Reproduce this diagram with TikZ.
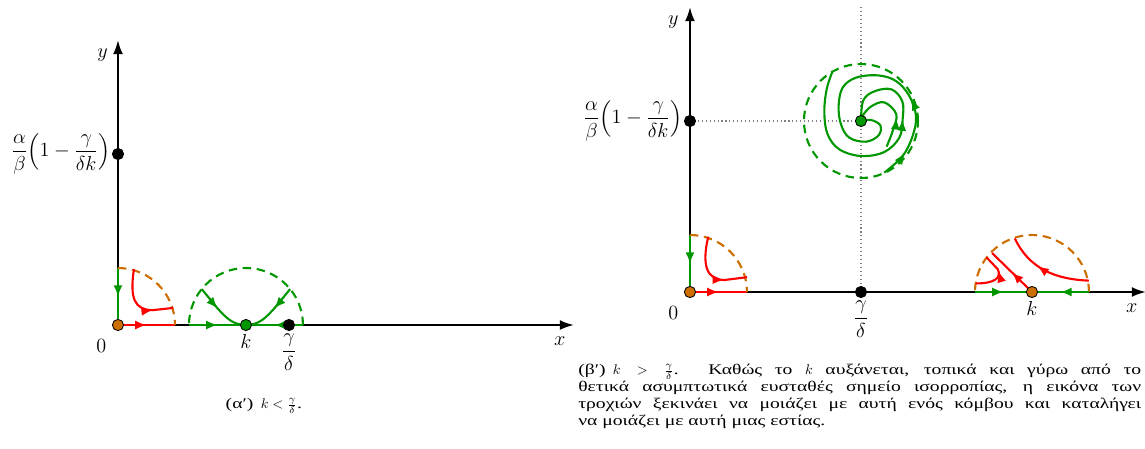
\documentclass[tikz,border=0pt]{standalone}
\usepackage{amsmath}
\usepackage{fontspec}
\newfontfamily\greekfont[Scale=1.05, FakeStretch=1.33]{Liberation Serif}
\usepackage{tikz}
\usetikzlibrary{positioning, arrows.meta, decorations.markings}

\definecolor{fgreen}{RGB}{0,150,0}
\definecolor{forange}{RGB}{204,110,0}

\begin{document}
\begin{tikzpicture}[
    x=1.425cm, y=1.425cm,
    >={Latex[length=8pt, width=6.5pt]},
    axis/.style={-{Latex[length=10pt, width=7pt]}, line width=1.5pt, black},
    lbl/.style={font=\Large, inner sep=2pt},
    pt/.style={
        circle,
        draw=black,
        line width=0.6pt,
        inner sep=0pt,
        minimum size=8pt
    },
    stablept/.style={pt, fill=fgreen},
    unstablept/.style={pt, fill=forange},
    markpt/.style={pt, fill=black},
    flow/.style={
        line width=1.5pt,
        postaction={decorate},
        decoration={markings, mark=at position #1 with {\arrow{>}}}
    },
    flow/.default=0.5,
    flowtwo/.style 2 args={
        line width=1.5pt,
        postaction={decorate},
        decoration={markings,
            mark=at position #1 with {\arrow{>}},
            mark=at position #2 with {\arrow{>}}}
    },
    bound/.style={line width=1.5pt, dash pattern=on 6pt off 4pt},
    guide/.style={gray, dotted, line width=0.8pt},
    caption/.style={font=\greekfont, inner sep=0pt}
]

\useasboundingbox (-2.070,-2.158) rectangle (18.018,5.702);

% (a) k < gamma/delta
\coordinate (O1) at (0,0);
\coordinate (x1) at (8,0);
\coordinate (y1) at (0,5);
\draw[axis] (O1) -- (x1);
\draw[axis] (O1) -- (y1);

\draw[flow, fgreen] (0,1) -- (O1);
\draw[flow, red] (O1) -- (1,0);
\draw[bound, forange] (0,1) arc[start angle=90, end angle=0, radius=1];
\draw[flow=0.72, red] (0.28,0.98) .. controls (0.2,0.45) and (0.3,0.27) .. (0.6,0.26) -- (0.97,0.3);

\draw[bound, fgreen] (3.245,0) arc[start angle=0, end angle=180, radius=1];
\draw[flow, fgreen] (1.245,0) -- (2.245,0);
\draw[flow, fgreen] (3.245,0) -- (2.245,0);
\draw[flow=0.42, fgreen] (1.47,0.63) -- (1.74,0.3) to[out=-48, in=180] (2.245,0);
\draw[flow=0.42, fgreen] (3.02,0.63) -- (2.75,0.3) to[out=-132, in=0] (2.245,0);

\node[unstablept] (o1) at (O1) {};
\node[markpt] (ys1) at (0,3) {};
\node[stablept] (k1) at (2.245,0) {};
\node[markpt] (gd1) at (3,0) {};

\node[lbl, below left=4pt and 5pt of y1] (ylab1) {$y$};
\node[lbl, below left=6pt and 4pt of x1] (xlab1) {$x$};
\node[lbl, below left=5pt and 3pt of o1] (zero1) {$0$};
\node[lbl, below=0pt of k1] (klab1) {$k$};
\node[lbl, below=0pt of gd1] (gdlab1) {$\dfrac{\gamma}{\delta}$};
\node[lbl, left=0pt of ys1, inner sep=1pt] (yslab1) {$\dfrac{\alpha}{\beta}\Bigl(1-\dfrac{\gamma}{\delta k}\Bigr)$};

\node[caption] (capa) at (2.56,-1.42) {(α′)\enspace$k < \tfrac{\gamma}{\delta}$.};

% (b) k > gamma/delta
\begin{scope}[shift={(10.035,0.579)}]
\coordinate (O2) at (0,0);
\coordinate (x2) at (8,0);
\coordinate (y2) at (0,5);
\coordinate (F) at (3,3);
\draw[guide] (3,5) -- (3,0);
\draw[guide] (0,3) -- (F);
\draw[axis] (O2) -- (x2);
\draw[axis] (O2) -- (y2);

\draw[flow, fgreen] (0,1) -- (O2);
\draw[flow, red] (O2) -- (1,0);
\draw[bound, forange] (0,1) arc[start angle=90, end angle=0, radius=1];
\draw[flow=0.7, red] (0.32,0.97) .. controls (0.2,0.45) and (0.3,0.22) .. (0.6,0.21) -- (1.0,0.26);

% focus
\draw[bound, fgreen] (F) circle[radius=1];
\draw[flowtwo={0.1}{0.3}, fgreen] plot[smooth, tension=0.6] coordinates {
    (3.409,2.094) (3.731,2.386) (3.906,2.737) (3.965,3.088) (3.848,3.439)
    (3.614,3.702) (3.292,3.801) (2.912,3.760) (2.678,3.585) (2.608,3.263)
    (2.649,2.942) (2.795,2.708) (3.088,2.637) (3.310,2.749) (3.339,2.924)
    (3.175,3.018) (3,3)};
\draw[flow=0.66, fgreen] plot[smooth, tension=0.6] coordinates {
    (2.503,3.877) (2.398,3.556) (2.357,3.146) (2.415,2.766) (2.620,2.503)
    (3,2.386) (3.409,2.456) (3.673,2.708) (3.731,3.029) (3.725,3.345)
    (3.532,3.556) (3.234,3.520) (3.040,3.360) (3,3)};
\draw[flow=0.36, fgreen] plot[smooth, tension=0.6] coordinates {
    (3.450,2.550) (3.556,2.825) (3.620,3.117) (3.409,3.327) (3.181,3.257)
    (3.040,3.110) (3,3)};

% around k
\draw[bound, forange] (7,0) arc[start angle=0, end angle=180, radius=1];
\draw[flow, fgreen] (5,0) -- (6,0);
\draw[flow, fgreen] (7,0) -- (6,0);
\draw[flow, red] (6,0) -- (5.30,0.684);
\draw[flow=0.62, red] (5.01,0.15) .. controls (5.35,0.15) and (5.47,0.25) .. (5.40,0.40) -- (5.2,0.61);
\draw[flow=0.6, red] (7.0,0.2) to[out=178, in=-65] (5.70,0.94);

\node[unstablept] (o2) at (O2) {};
\node[markpt] (ys2) at (0,3) {};
\node[stablept] (f2) at (F) {};
\node[markpt] (gd2) at (3,0) {};
\node[unstablept] (k2) at (6,0) {};

\node[lbl, below left=4pt and 6pt of y2] (ylab2) {$y$};
\node[lbl, below left=6pt and 4pt of x2] (xlab2) {$x$};
\node[lbl, below left=5pt and 3pt of o2] (zero2) {$0$};
\node[lbl, below=0pt of k2] (klab2) {$k$};
\node[lbl, below=0pt of gd2] (gdlab2) {$\dfrac{\gamma}{\delta}$};
\node[lbl, left=0pt of ys2, inner sep=1pt] (yslab2) {$\dfrac{\alpha}{\beta}\Bigl(1-\dfrac{\gamma}{\delta k}\Bigr)$};
\end{scope}

\node[caption, anchor=north west, text width=14.075cm, align=justify] (capb) at (8.07,-0.684)
    {(β′)\enspace$k > \tfrac{\gamma}{\delta}$. Καθώς το $k$ αυξάνεται, τοπικά και γύρω από το\linebreak
     θετικά ασυμπτωτικά ευσταθές σημείο ισορροπίας, η εικόνα των\linebreak
     τροχιών ξεκινάει να μοιάζει με αυτή ενός κόμβου και καταλήγει\linebreak
     να μοιάζει με αυτή μιας εστίας.};

\end{tikzpicture}
\end{document}
